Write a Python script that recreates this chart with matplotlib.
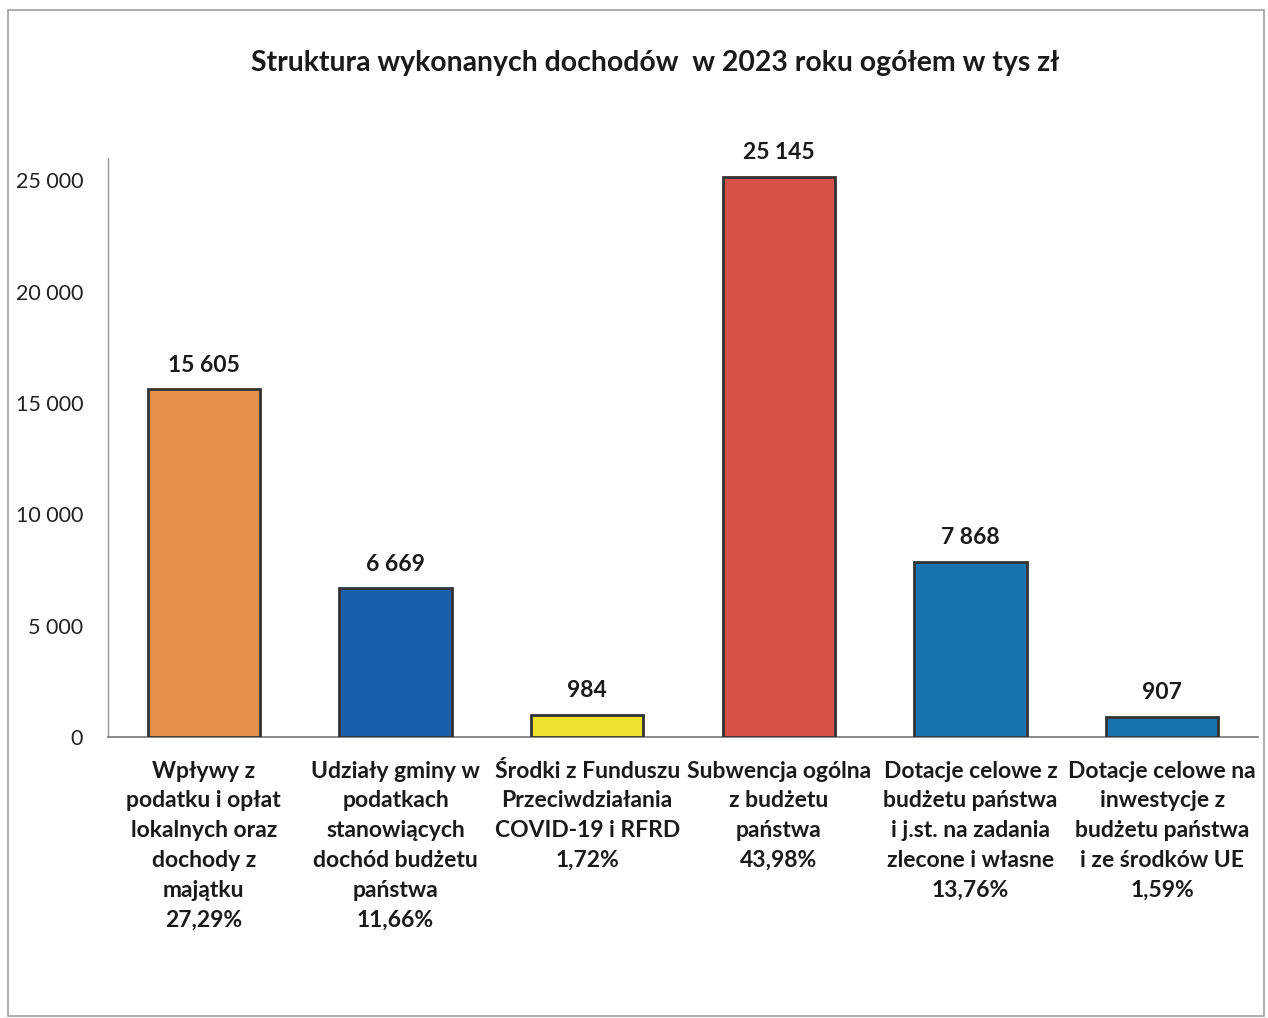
import matplotlib
matplotlib.use("Agg")
import matplotlib.pyplot as plt
from matplotlib.patches import Rectangle

plt.rcParams['font.family'] = ['Lato', 'DejaVu Sans']

title = "Struktura wykonanych dochodów  w 2023 roku ogółem w tys zł"
categories = [
    "Wpływy z\npodatku i opłat\nlokalnych oraz\ndochody z\nmajątku\n27,29%",
    "Udziały gminy w\npodatkach\nstanowiących\ndochód budżetu\npaństwa\n11,66%",
    "Środki z Funduszu\nPrzeciwdziałania\nCOVID-19 i RFRD\n1,72%",
    "Subwencja ogólna\nz budżetu\npaństwa\n43,98%",
    "Dotacje celowe z\nbudżetu państwa\ni j.st. na zadania\nzlecone i własne\n13,76%",
    "Dotacje celowe na\ninwestycje z\nbudżetu państwa\ni ze środków UE\n1,59%",
]
values = [15605, 6669, 984, 25145, 7868, 907]
colors = ["#E5914B", "#1560A8", "#F0E030", "#D9524A", "#1874AE", "#1874AE"]
yticks = [0, 5000, 10000, 15000, 20000, 25000]
ytick_labels = ["0", "5 000", "10 000", "15 000", "20 000", "25 000"]

W, H = 1268, 1018
fig = plt.figure(figsize=(W / 100, H / 100), dpi=100)
fig.patch.set_facecolor("white")

# outer border
fig.add_artist(Rectangle((8 / W, 1 - 1016 / H), (1264 - 8) / W, (1016 - 10) / H,
                         transform=fig.transFigure, fill=False,
                         edgecolor="#A0A0A0", linewidth=1.2))

ax = fig.add_axes([108 / W, 1 - 737 / H, (1258 - 108) / W, (737 - 158) / H])
x = list(range(len(values)))
bars = ax.bar(x, values, width=0.585, color=colors, edgecolor="#333333", linewidth=2.0, zorder=3)

ax.set_xlim(-0.5, len(values) - 0.5)
ax.set_ylim(0, 26000)
ax.set_yticks(yticks)
ax.set_yticklabels(ytick_labels, fontsize=15.5, color="#222222")
ax.tick_params(axis="y", length=0, pad=18)
ax.set_xticks([])

for s in ["top", "right"]:
    ax.spines[s].set_visible(False)
ax.spines["left"].set_color("#999999")
ax.spines["bottom"].set_color("#777777")
ax.spines["left"].set_linewidth(1.0)
ax.spines["bottom"].set_linewidth(1.2)

for xi, v in zip(x, values):
    lab = f"{v:,}".replace(",", " ")
    ax.annotate(lab, (xi, v), xytext=(0, 10), textcoords="offset points",
                ha="center", va="bottom", fontsize=16.5, fontweight="bold", color="#1a1a1a")

for xi, c in zip(x, categories):
    ax.annotate(c, (xi, 0), xytext=(0, -17), textcoords="offset points",
                ha="center", va="top", fontsize=16.5, fontweight="bold",
                color="#1a1a1a", linespacing=1.52, annotation_clip=False)

fig.text(655 / W, 1 - 63 / H, title, ha="center", va="center",
         fontsize=20.4, fontweight="bold", color="#1a1a1a")

fig.savefig("out.png", dpi=100, facecolor="white")
